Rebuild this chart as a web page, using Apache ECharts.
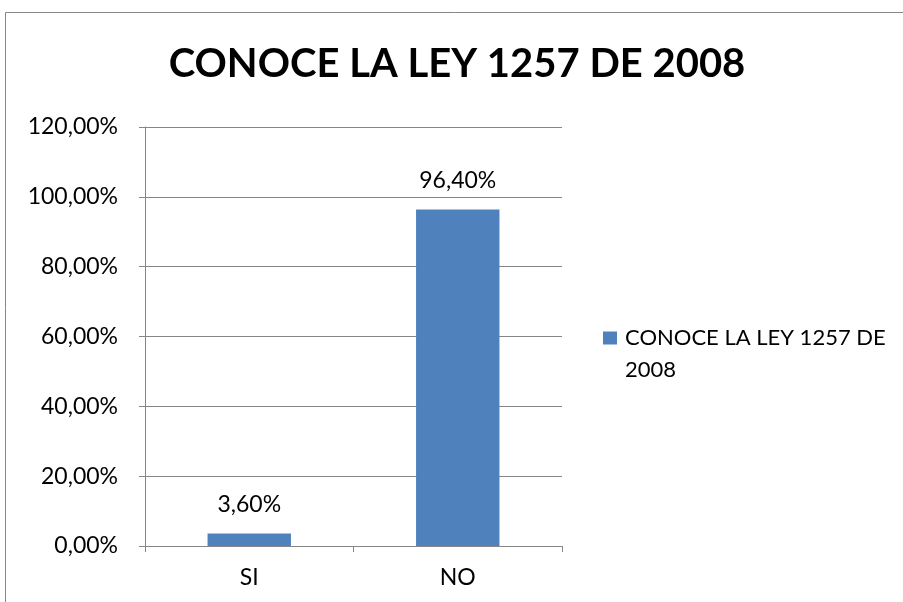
<!DOCTYPE html>
<html><head><meta charset="utf-8">
<script src="https://cdn.jsdelivr.net/npm/echarts@6/dist/echarts.min.js"></script>
<style>html,body{margin:0;padding:0;background:#fff;overflow:hidden}#c{width:903px;height:602px}</style>
</head><body><div id="c"></div>
<script>
const title = 'CONOCE LA LEY 1257 DE 2008';
const categories = ['SI', 'NO'];
const seriesName = 'CONOCE LA LEY 1257 DE 2008';
const values = [3.6, 96.4];
const yTicks = [0, 20, 40, 60, 80, 100, 120];

const fmt = v => v.toFixed(2).replace('.', ',') + '%';
const font = 'Lato, "Open Sans", sans-serif';
const chart = echarts.init(document.getElementById('c'));
chart.setOption({
  animation: false,
  title: {
    text: title, left: 452, top: 39, textAlign: 'center',
    textStyle: { fontFamily: font, fontWeight: 'bold', fontSize: 40, color: '#000' }
  },
  graphic: [
    { type: 'line', shape: { x1: 5.5, y1: 12.5, x2: 903, y2: 12.5 }, style: { stroke: '#868686', lineWidth: 1 }, silent: true },
    { type: 'line', shape: { x1: 5.5, y1: 12.5, x2: 5.5, y2: 602 }, style: { stroke: '#868686', lineWidth: 1 }, silent: true }
  ],
  legend: {
    left: 603, top: 290, padding: 0, itemWidth: 14, itemHeight: 13, itemGap: 0,
    icon: 'rect',
    formatter: () => '\nCONOCE LA LEY 1257 DE\n2008',
    textStyle: { fontFamily: font, fontSize: 22, color: '#000', lineHeight: 32, padding: [0, 0, 0, 3] }
  },
  grid: { left: 145, right: 341, top: 127, bottom: 56, containLabel: false },
  xAxis: {
    type: 'category', data: categories,
    axisLine: { lineStyle: { color: '#868686' } },
    axisTick: { show: true, length: 6, lineStyle: { color: '#868686' } },
    axisLabel: { fontFamily: font, fontSize: 23, color: '#000', margin: 20 }
  },
  yAxis: {
    type: 'value', min: 0, max: 120, interval: 20,
    axisLine: { show: true, lineStyle: { color: '#868686' } },
    axisTick: { show: true, length: 6, lineStyle: { color: '#868686' } },
    splitLine: { lineStyle: { color: '#868686' } },
    axisLabel: { fontFamily: font, fontSize: 23, color: '#000', margin: 27, formatter: v => fmt(v) }
  },
  series: [{
    type: 'bar', name: seriesName, data: values, barWidth: '40%',
    itemStyle: { color: '#4F81BD' },
    label: { show: true, position: 'top', distance: 17, fontFamily: font, fontSize: 23, color: '#000', formatter: p => fmt(p.value) }
  }]
});
</script></body></html>
